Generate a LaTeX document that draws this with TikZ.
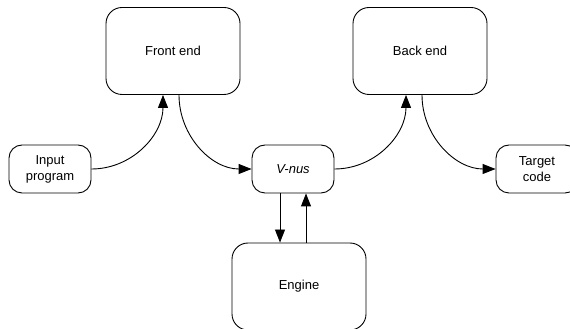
\documentclass[tikz,border=0pt]{standalone}
\usepackage{fontspec}
\setmainfont{Liberation Sans}
\usetikzlibrary{arrows.meta}

\tikzset{
  bigbox/.style={draw, line width=0.9pt, rounded corners=16pt,
    minimum width=134pt, minimum height=87pt},
  smallbox/.style={draw, line width=0.9pt, rounded corners=13pt,
    minimum width=82pt, minimum height=48pt, align=center},
  flow/.style={line width=0.9pt, -{Triangle[length=13pt,width=10pt]}}
}

\begin{document}
\begin{tikzpicture}[x=1pt,y=1pt,
    every node/.style={font=\fontsize{13}{16}\selectfont}]
    \clip (0,0) rectangle (570,329);

    \node[bigbox] (FE) at (173,278) {Front end};
    \node[bigbox] (BE) at (420,278) {Back end};
    \node[bigbox] (EN) at (299,42.5) {Engine};

    \node[smallbox] (IN) at (50,160) {Input\\program};
    \node[smallbox] (VN) at (293,160) {\itshape V-nus};
    \node[smallbox] (TC) at (537,160) {Target\\code};



    \draw[flow] (IN.east) to[out=0,in=-90] ([xshift=-10pt]FE.south);
    \draw[flow] ([xshift=6pt]FE.south) to[out=-90,in=180] (VN.west);

    \draw[flow] (VN.east) to[out=0,in=-90] ([xshift=-14pt]BE.south);
    \draw[flow] ([xshift=2pt]BE.south) to[out=-90,in=180] (TC.west);

    \draw[flow] (VN.south -| 280,0) -- (EN.north -| 280,0);
    \draw[flow] (EN.north -| 306,0) -- (VN.south -| 306,0);

\end{tikzpicture}
\end{document}
